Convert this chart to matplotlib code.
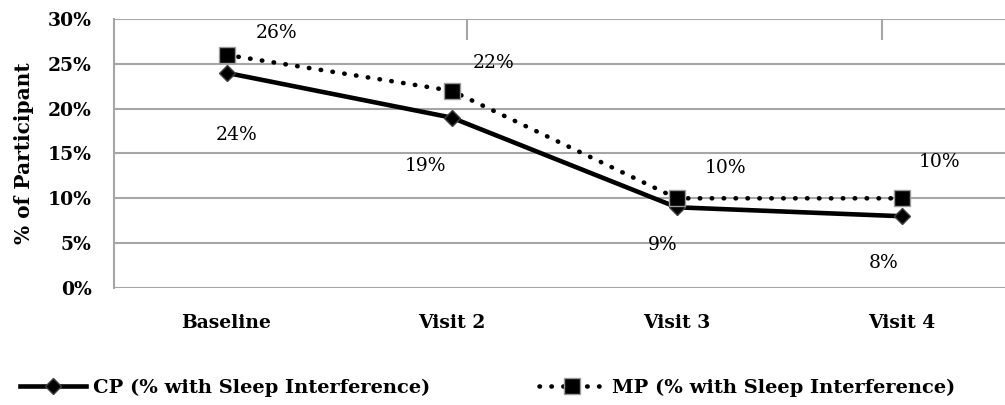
import matplotlib
matplotlib.use("Agg")
import matplotlib.pyplot as plt
from matplotlib.lines import Line2D

categories = ["Baseline", "Visit 2", "Visit 3", "Visit 4"]
cp_values = [24, 19, 9, 8]
mp_values = [26, 22, 10, 10]
cp_label = "CP (% with Sleep Interference)"
mp_label = "MP (% with Sleep Interference)"
y_ticks = [0, 5, 10, 15, 20, 25, 30]

plt.rcParams["font.family"] = ["DejaVu Serif"]

fig = plt.figure(figsize=(10.05, 4.05), dpi=100)
ax = fig.add_axes([0.1134, 0.289, 0.8866, 0.664])

grid_color = "#a6a6a6"
x = list(range(len(categories)))

for yt in y_ticks:
    ax.axhline(yt, color=grid_color, lw=1.5, zorder=1)

ax.plot(x, cp_values, color="black", lw=3.3, marker="D", ms=8,
        markerfacecolor="black", markeredgecolor="#404040", markeredgewidth=1,
        zorder=3, solid_capstyle="butt")
ax.plot(x, mp_values, color="black", lw=3.3, linestyle=(0, (0.1, 2.5)),
        dash_capstyle="round", marker="s", ms=11.5,
        markerfacecolor="black", markeredgecolor="#9a9a9a", markeredgewidth=1,
        zorder=4)

# value labels with per-point offsets (in points)
cp_offsets = [(7, -45), (-19, -35), (-10, -27), (-13, -34)]
mp_offsets = [(36, 16), (30, 20), (35, 22), (27, 26)]
for xi, v, off in zip(x, cp_values, cp_offsets):
    ax.annotate(f"{v}%", (xi, v), xytext=off, textcoords="offset points",
                ha="center", va="center", fontsize=13.5, zorder=5)
for xi, v, off in zip(x, mp_values, mp_offsets):
    ax.annotate(f"{v}%", (xi, v), xytext=off, textcoords="offset points",
                ha="center", va="center", fontsize=13.5, zorder=5)

# short marks hanging from the top border
for xm in (1.07, 2.91):
    ax.plot([xm, xm], [30, 27.8], color=grid_color, lw=1.5, zorder=1)

ax.set_xlim(-0.5, 3.458)
ax.set_ylim(0, 30)
ax.set_yticks(y_ticks)
ax.set_yticklabels([f"{t}%" for t in y_ticks], fontsize=13.5, fontweight="bold")
ax.set_xticks(x)
ax.set_xticklabels(categories, fontsize=13.5, fontweight="bold")
ax.tick_params(axis="both", length=0)
ax.tick_params(axis="y", pad=16)
ax.tick_params(axis="x", pad=19)
for side in ("top", "right", "bottom"):
    ax.spines[side].set_visible(False)
ax.spines["left"].set_color(grid_color)
ax.spines["left"].set_linewidth(1.5)
ax.set_ylabel("% of Participant", fontsize=14.5, fontweight="bold", labelpad=10)

handles = [
    Line2D([], [], color="black", lw=3.3, marker="D", ms=8,
           markeredgecolor="#404040"),
    Line2D([], [], color="black", lw=3.3, linestyle=(0, (0.1, 2.5)),
           dash_capstyle="round", marker="s", ms=11.5,
           markeredgecolor="#9a9a9a"),
]
fig.legend(handles, [cp_label, mp_label], loc="center left",
           bbox_to_anchor=(0.012, 0.042), ncol=2, frameon=False,
           prop={"size": 14, "weight": "bold"}, handlelength=3.4,
           handletextpad=0.35, columnspacing=5.6, borderaxespad=0)

fig.savefig("out.png", dpi=100)
